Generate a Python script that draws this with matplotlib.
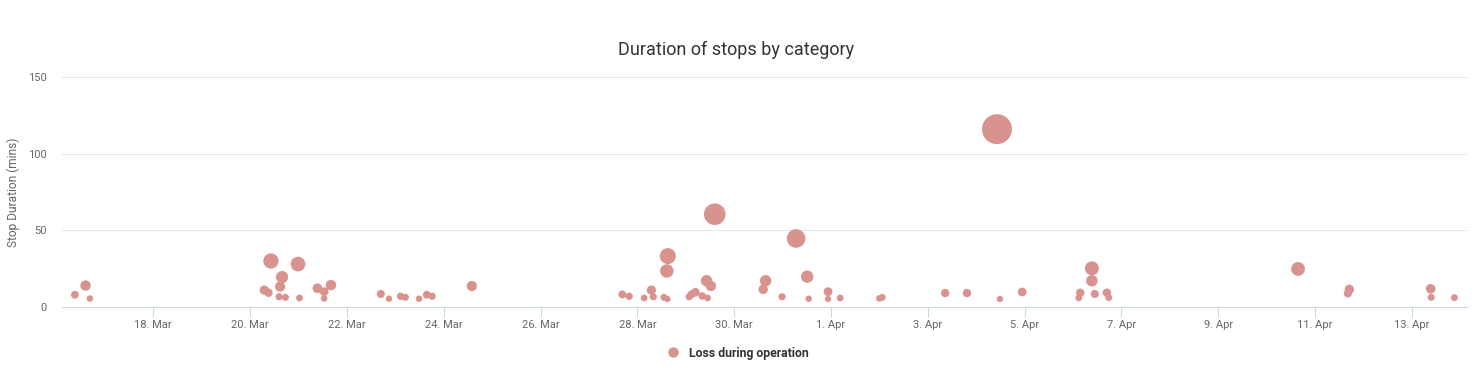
import matplotlib
matplotlib.use("Agg")
import matplotlib.pyplot as plt
import matplotlib.dates as mdates
from matplotlib.lines import Line2D
import numpy as np
import pandas as pd

plt.rcParams['font.family'] = ['Roboto', 'DejaVu Sans']

# stop start times and durations (mins)
stop_times = [
    "2024-03-16 09:07", "2024-03-16 14:24", "2024-03-16 16:34",
    "2024-03-20 07:00", "2024-03-20 09:07", "2024-03-20 10:19", "2024-03-20 14:24",
    "2024-03-20 14:53", "2024-03-20 15:50", "2024-03-20 17:31", "2024-03-20 23:46",
    "2024-03-21 00:29", "2024-03-21 09:22", "2024-03-21 12:43", "2024-03-21 12:43",
    "2024-03-21 16:05", "2024-03-22 16:48", "2024-03-22 20:53", "2024-03-23 02:38",
    "2024-03-23 05:02", "2024-03-23 11:46", "2024-03-23 15:36", "2024-03-23 18:14",
    "2024-03-24 13:55", "2024-03-27 16:34", "2024-03-27 19:55", "2024-03-28 03:22",
    "2024-03-28 06:58", "2024-03-28 07:55", "2024-03-28 13:12", "2024-03-28 14:38",
    "2024-03-28 14:53", "2024-03-28 15:07", "2024-03-29 01:41", "2024-03-29 02:53",
    "2024-03-29 04:48", "2024-03-29 08:10", "2024-03-29 10:19", "2024-03-29 10:48",
    "2024-03-29 12:29", "2024-03-29 14:24", "2024-03-30 14:24", "2024-03-30 15:36",
    "2024-03-30 23:46", "2024-03-31 06:43", "2024-03-31 12:14", "2024-03-31 12:58",
    "2024-03-31 22:34", "2024-03-31 22:34", "2024-04-01 04:34", "2024-04-02 00:00",
    "2024-04-02 01:26", "2024-04-03 08:38", "2024-04-03 19:26", "2024-04-04 10:19",
    "2024-04-04 11:46", "2024-04-04 22:48", "2024-04-06 02:53", "2024-04-06 03:36",
    "2024-04-06 09:22", "2024-04-06 09:22", "2024-04-06 10:48", "2024-04-06 16:48",
    "2024-04-06 17:46", "2024-04-10 15:36", "2024-04-11 16:19", "2024-04-11 17:02",
    "2024-04-13 09:22", "2024-04-13 09:36", "2024-04-13 21:07",
]
durations = [
    8, 14, 5.5,
    11, 9.3, 30, 6.7,
    13.3, 19.5, 6.3, 28,
    5.9, 12.2, 10, 5.6,
    14.3, 8.5, 5.4, 7,
    6.3, 5.4, 8, 7,
    13.7, 8.2, 7, 5.9,
    11, 6.7, 6.3, 23.5,
    5.2, 33.2, 6.7, 8.3,
    9.6, 7.2, 17.1, 5.9,
    13.7, 60.5, 11.5, 17.1,
    6.7, 44.7, 19.8, 5.4,
    10, 5.2, 5.9, 5.6,
    6.3, 9.1, 9.1, 116,
    5.2, 9.8, 5.9, 9.3,
    25.2, 17.1, 8.5, 9.3,
    6.1, 24.8, 8.9, 11.5,
    11.9, 6.3, 6.1,
]
series_name = "Loss during operation"
title = "Duration of stops by category"
y_label = "Stop Duration (mins)"
y_ticks = [0, 50, 100, 150]

times = pd.to_datetime(stop_times)
dur = np.array(durations)
color = "#d9938f"

fig = plt.figure(figsize=(14.82, 3.71), dpi=100)
ax = fig.add_axes([62 / 1482, 1 - 307 / 371, (1467 - 62) / 1482, (307 - 77) / 371])

ax.scatter(times, dur, s=4.0 * dur, color=color, edgecolors="none", zorder=3)

ax.set_ylim(0, 150)
ax.set_yticks(y_ticks)
ax.set_xlim(pd.Timestamp("2024-03-16 02:44"), pd.Timestamp("2024-04-14 03:22"))
ax.set_xticks(pd.date_range("2024-03-18", "2024-04-13", freq="2D"))
ax.xaxis.set_major_formatter(plt.FuncFormatter(
    lambda v, p: f"{mdates.num2date(v).day}. {mdates.num2date(v).strftime('%b')}"))

ax.grid(axis="y", color="#e6e6e6", lw=0.75, zorder=0)
ax.set_axisbelow(True)
for side in ["top", "right", "left"]:
    ax.spines[side].set_visible(False)
ax.spines["bottom"].set_color("#ccd6eb")
ax.spines["bottom"].set_linewidth(0.75)

ax.tick_params(axis="x", colors="#ccd6eb", length=7, width=0.75, pad=2,
               labelcolor="#666666", labelsize=8)
ax.tick_params(axis="y", length=0, pad=11, labelcolor="#666666", labelsize=8)

ax.set_ylabel(y_label, color="#666666", fontsize=8.6)
ax.yaxis.set_label_coords((20 - 62) / 1405, 0.5)

fig.text(0.497, 1 - 50 / 371, title, ha="center", va="center", fontsize=13, color="#333333")

handle = Line2D([], [], marker="o", ls="", color=color, markersize=6.5)
fig.legend(handles=[handle], labels=[series_name], loc="center",
           bbox_to_anchor=(0.4957, 1 - 353 / 371), frameon=False,
           prop={"weight": "bold", "size": 8.8}, handletextpad=0.25,
           labelcolor="#333333")

fig.savefig("out.png", dpi=100)
